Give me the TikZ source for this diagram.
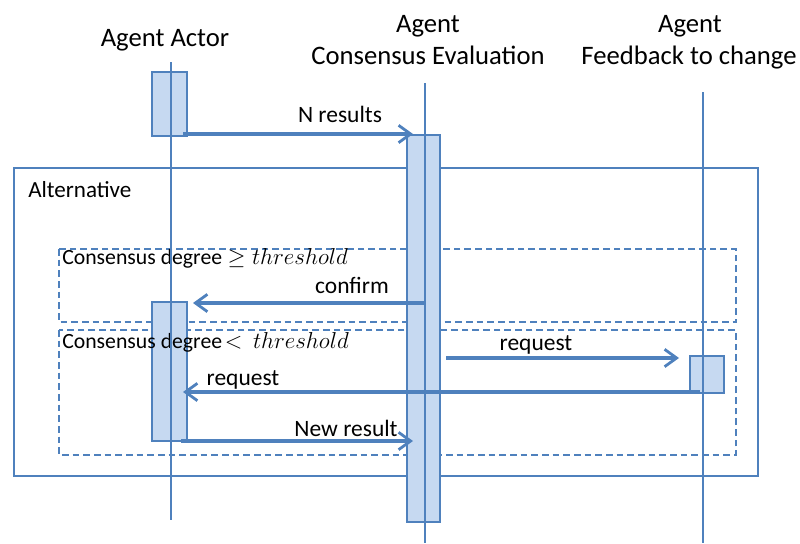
\documentclass[tikz,border=0pt]{standalone}
\usepackage{fontspec}
\setmainfont{Carlito}
\usetikzlibrary{arrows.meta}
\definecolor{lb}{HTML}{4F81BD}
\definecolor{fillb}{HTML}{C6D9F1}
\newcommand{\thr}{{\fontsize{16.6}{20}\selectfont$threshold$}}
\begin{document}
\begin{tikzpicture}[x=0.75pt,y=-0.75pt,
  life/.style={draw=lb,line width=1.1pt},
  actbox/.style={draw=lb,fill=fillb,line width=1.1pt},
  msg/.style={draw=lb,line width=2.3pt,-{Straight Barb[length=9pt,width=13pt,line width=2.1pt]}},
  framebox/.style={draw=lb,line width=1.2pt},
  guard/.style={draw=lb,line width=1.1pt,dash pattern=on 5pt off 3pt},
  ttl/.style={font=\fontsize{20}{24}\selectfont,inner sep=0,anchor=base},
  lab/.style={font=\fontsize{17.6}{20}\selectfont,inner sep=0,anchor=base},
  glab/.style={font=\fontsize{16.3}{18}\selectfont,inner sep=0,anchor=base west}]
\useasboundingbox (0,0) rectangle (800,543);
\fill[white] (0,0) rectangle (800,543);

% titles
\node[ttl] (tA) at (165,46) {Agent Actor};
\node[ttl] (tC1) at (428,32) {Agent};
\node[ttl] (tC2) at (428,64) {Consensus Evaluation};
\node[ttl] (tF1) at (690,32) {Agent};
\node[ttl] (tF2) at (689,64) {Feedback to change};

% frames
\coordinate (alt1) at (14,168); \coordinate (alt2) at (758,476);
\draw[framebox] (alt1) rectangle (alt2);
\node[font=\fontsize{17.3}{20}\selectfont,inner sep=0,anchor=base west] (altl) at (28,197) {Alternative};
\coordinate (g1a) at (59,249); \coordinate (g1b) at (736,322);
\draw[guard] (g1a) rectangle (g1b);
\coordinate (g2a) at (59,330); \coordinate (g2b) at (736,455);
\draw[guard] (g2a) rectangle (g2b);

% activation boxes
\coordinate (a1a) at (152,72);  \coordinate (a1b) at (187,136);
\coordinate (a2a) at (152,302); \coordinate (a2b) at (187,441);
\coordinate (c1a) at (407,135); \coordinate (c1b) at (440,522);
\coordinate (f1a) at (690,356); \coordinate (f1b) at (724,393);
\draw[actbox] (a1a) rectangle (a1b);
\draw[actbox] (a2a) rectangle (a2b);
\draw[actbox] (c1a) rectangle (c1b);
\draw[actbox] (f1a) rectangle (f1b);

% guard labels (drawn over the boxes)
\node[glab] (gl1) at (62,264) {Consensus degree\hspace{4pt}$\geq$\hspace{5pt}\thr};
\node[glab] (gl2) at (62,348) {Consensus degree\hspace{2pt}$<$\hspace{8pt}\thr};

% lifelines
\coordinate (lAt) at (171,62);  \coordinate (lAb) at (171,520);
\coordinate (lCt) at (425,83);  \coordinate (lCb) at (425,543);
\coordinate (lFt) at (703,92);  \coordinate (lFb) at (703,543);
\draw[life] (lAt) -- (lAb);
\draw[life] (lCt) -- (lCb);
\draw[life] (lFt) -- (lFb);

% messages
\coordinate (m1s) at (183,134); \coordinate (m1e) at (413,134);
\draw[msg] (m1s) -- (m1e);
\node[lab] (m1l) at (340,122) {N results};

\coordinate (m2s) at (425,303); \coordinate (m2e) at (193,303);
\draw[msg] (m2s) -- (m2e);
\node[lab] (m2l) at (352,293) {confirm};

\coordinate (m3s) at (446,358); \coordinate (m3e) at (679,358);
\draw[msg] (m3s) -- (m3e);
\node[lab] (m3l) at (536,350) {request};

\coordinate (m4s) at (700,392); \coordinate (m4e) at (183,392);
\draw[msg] (m4s) -- (m4e);
\node[lab] (m4l) at (243,385) {request};

\coordinate (m5s) at (181,441); \coordinate (m5e) at (413,441);
\draw[msg] (m5s) -- (m5e);
\node[lab] (m5l) at (346,436) {New result};
\end{tikzpicture}
\end{document}
